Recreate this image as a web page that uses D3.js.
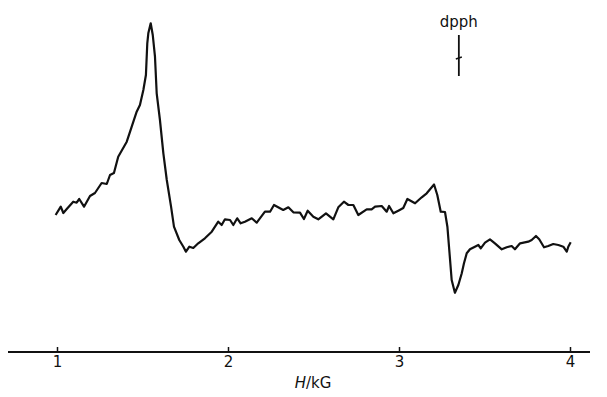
<!DOCTYPE html>
<html>
<head>
<meta charset="utf-8">
<script src="https://cdn.jsdelivr.net/npm/d3@7"></script>
<style>
  body { margin: 0; background: #fff; }
  svg text { font-family: "DejaVu Sans", sans-serif; fill: #111; }
</style>
</head>
<body>
<div id="chart"></div>
<script>
// field in kG and signal (arbitrary units)
const field = [0.992,1.022,1.037,1.057,1.095,1.115,1.130,1.158,1.193,1.222,1.261,1.291,1.310,1.333,1.358,1.408,1.437,1.466,1.485,1.505,1.520,1.528,1.534,1.548,1.560,1.573,1.583,1.602,1.622,1.642,1.667,1.684,1.715,1.739,1.754,1.774,1.797,1.826,
  1.865,1.905,1.943,1.963,1.982,2.012,2.031,2.054,2.074,2.099,2.139,2.168,2.216,2.246,2.269,2.304,2.323,2.353,2.382,2.421,2.444,2.466,2.499,2.528,2.573,2.616,2.645,2.678,2.704,2.733,2.762,2.811,2.840,2.860,2.899,2.928,2.942,2.967,2.996,
  3.025,3.049,3.094,3.133,3.162,3.205,3.224,3.244,3.269,3.283,3.294,3.308,3.327,3.347,3.367,3.380,3.396,3.415,3.444,3.464,3.478,3.503,3.532,3.561,3.601,3.630,3.659,3.678,3.708,3.756,3.776,3.801,3.820,3.848,3.873,3.902,3.932,3.961,3.981,3.990,4.004];
const signal = [85,93.3,87,91,98.3,97.3,101,93.3,104,107,117,116,125,127,143.3,158.3,173.3,188.3,195,210,225,256.7,266.7,276.7,265,243.3,206.7,180,146.7,120,93.3,73.3,60,53.3,48.3,53.3,52,56.7,
  61.7,68.3,78.3,75,80.7,80,75,81.7,76.7,78.3,81.7,77.3,88.3,88.3,95,91.7,90,92.7,87.7,87.3,81,89.3,83.3,80.7,86.7,80.7,92.7,98.3,95,95,85,90.7,90.7,93.3,94,88.3,94,86.7,89.3,
  92,101,96.7,102.7,106.7,115.5,105,88.3,88,73.3,50,20,7.3,15,26.7,36.7,46.7,50.7,53.3,55,51.7,57.3,60.7,56.7,50.7,52.7,54,50.7,56.7,58.3,60,64,60.7,52.7,54,56,55,53.3,48.3,53.3,57.7];
const tickValues = [1, 2, 3, 4];
const dpphField = 3.35;

const width = 607, height = 397;
const svg = d3.select("#chart").append("svg")
  .attr("width", width)
  .attr("height", height);

const x = d3.scaleLinear().domain([1, 4]).range([57, 570]);
const y = d3.scaleLinear().domain([0, 280]).range([300, 20]);
const axisY = 352;

// axis
svg.append("line")
  .attr("x1", 8).attr("x2", 590)
  .attr("y1", axisY).attr("y2", axisY)
  .attr("stroke", "#111").attr("stroke-width", 2);

const ax = svg.append("g")
  .attr("transform", "translate(0," + axisY + ")")
  .call(d3.axisBottom(x).tickValues(tickValues).tickSize(-5).tickPadding(4).tickFormat(d3.format("d")));
ax.select(".domain").remove();
ax.selectAll(".tick line").attr("stroke", "#111").attr("stroke-width", 1.5);
ax.selectAll(".tick text").style("font-size", "15px").style("fill", "#111");

const title = svg.append("text")
  .attr("x", 313).attr("y", 388)
  .attr("text-anchor", "middle")
  .style("font-size", "15px");
title.append("tspan").style("font-style", "italic").text("H");
title.append("tspan").text("/kG");

// trace
const pts = field.map((f, i) => [f, signal[i]]);
const line = d3.line().x(d => x(d[0])).y(d => y(d[1]));
svg.append("path")
  .datum(pts)
  .attr("d", line)
  .attr("fill", "none")
  .attr("stroke", "#111")
  .attr("stroke-width", 2.2)
  .attr("stroke-linejoin", "round");

// dpph marker
const mx = x(dpphField);
svg.append("text")
  .attr("x", mx).attr("y", 27)
  .attr("text-anchor", "middle")
  .style("font-size", "15px")
  .text("dpph");
svg.append("line")
  .attr("x1", mx).attr("x2", mx)
  .attr("y1", 35).attr("y2", 76)
  .attr("stroke", "#111").attr("stroke-width", 1.8);
svg.append("line")
  .attr("x1", mx - 3).attr("x2", mx + 3)
  .attr("y1", 59).attr("y2", 57)
  .attr("stroke", "#111").attr("stroke-width", 1.5);
</script>
</body>
</html>
